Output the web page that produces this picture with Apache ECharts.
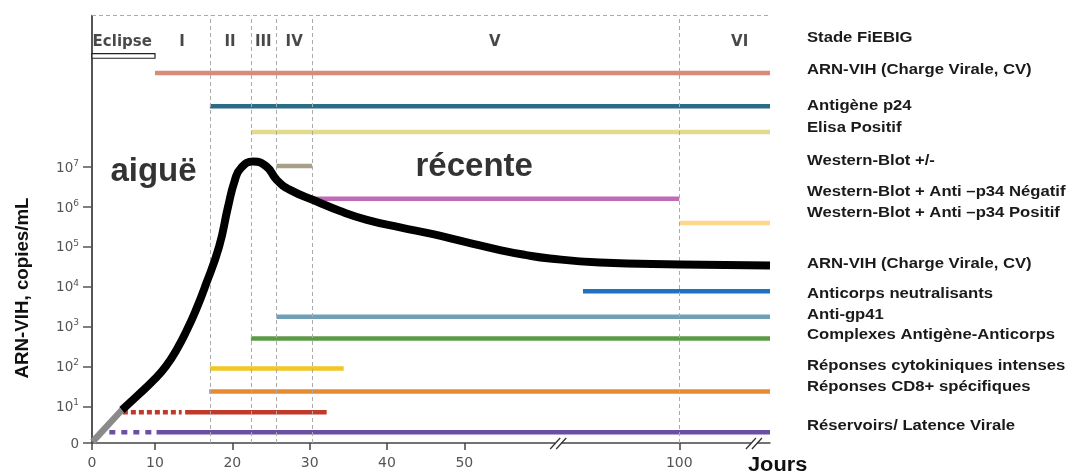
<!DOCTYPE html>
<html><head><meta charset="utf-8">
<script src="https://cdn.jsdelivr.net/npm/echarts@6/dist/echarts.min.js"></script>
<style>html,body{margin:0;padding:0;background:#fff}#c{width:1069px;height:474px}</style>
</head><body><div id="c"></div>
<script>
// ---------- data ----------
const xTickDays = [0, 10, 20, 30, 40, 50, 100];
const yTickExp = [0, 1, 2, 3, 4, 5, 6, 7];           // "0" then 10^k
const stageNames = ['Eclipse', 'I', 'II', 'III', 'IV', 'V', 'VI'];
const stageCenterDays = [4.8, 13.5, 19.7, 24.0, 28.0, 57.1, 113.3];
const stageBoundaryDays = [17.1, 22.4, 25.7, 30.3, 100];
const eclipseDays = [0, 10];
const axisBreakDays = [72.3, 116.9];

const curveGrayDays = [0.1, 4.75];
const curveGrayLog  = [0.11, 0.91];
const curveDays = [4.75, 7.3, 10, 11.42, 12.85, 14.14, 15.30, 16.47, 18.28, 19.44, 20.34, 21.12, 22.7, 24.45, 25.74, 27.46, 30.92, 33.93, 37.4, 41.7, 45.95, 50.4, 58.3, 64.1, 69.9, 81.5, 100.2, 120];
const curveLog  = [0.91, 1.28, 1.69, 2.01, 2.44, 2.92, 3.42, 4.0, 5.0, 6.0, 6.68, 6.98, 7.14, 7.01, 6.68, 6.43, 6.14, 5.90, 5.68, 5.49, 5.32, 5.12, 4.92, 4.80, 4.71, 4.61, 4.56, 4.53];

const markerNames = ['ARN-VIH', 'Antigène p24', 'Elisa Positif', 'Western-Blot +/-', 'WB Anti-p34 Négatif', 'WB Anti-p34 Positif',
  'Anticorps neutralisants', 'Anti-gp41', 'Complexes Ag-Ac', 'Réponses cytokiniques', 'Réponses CD8+', 'Latence (rouge)', 'Réservoirs'];
const markerStartDays = [10, 17.1, 22.4, 25.7, 30.3, 100, 77.6, 25.7, 22.4, 17.1, 17.0, 13.9, 10.2];
const markerEndDays   = [120, 120, 120, 30.3, 100, 120, 120, 120, 120, 34.4, 120, 32.2, 120];
const markerLevels    = [9.36, 8.53, 7.88, 7.03, 6.21, 5.60, 3.89, 3.25, 2.70, 1.95, 1.37, 0.85, 0.35];
const dashedStartDays = [4.9, 2.75];
const dashedEndDays   = [13.45, 9.47];
const dashedLevels    = [0.85, 0.35];

const rightLabels = ['Stade FiEBIG', 'ARN-VIH (Charge Virale, CV)', 'Antigène p24', 'Elisa Positif', 'Western-Blot +/-',
  'Western-Blot + Anti –p34 Négatif', 'Western-Blot + Anti –p34 Positif', 'ARN-VIH (Charge Virale, CV)',
  'Anticorps neutralisants', 'Anti-gp41', 'Complexes Antigène-Anticorps', 'Réponses cytokiniques intenses',
  'Réponses CD8+ spécifiques', 'Réservoirs/ Latence Virale'];
const phaseTexts = ['aiguë', 'récente'];
const phaseDays = [9.76, 52.3];
const phaseLevels = [6.87, 7.0];

// ---------- styles / layout ----------
const markerColors = ['#d98b78', '#2a6b85', '#e3da8e', '#a89f87', '#c06bb5', '#fdd88a', '#1e73be', '#6fa0b8', '#5c9a45', '#f0c723', '#e88b30', '#c0392b', '#6b4fa3'];
const dashedColors = ['#c0392b', '#6b4fa3'];
const dashedPatterns = [[5, 3], [6, 6]];
const rightLabelY = [38, 70, 106, 128, 161, 192, 213, 264, 294, 315, 335, 366, 387, 426];

// broken time axis: piecewise-linear mapping days -> axis units
const scaleDays  = [0, 10, 50, 100, 120];
const scaleUnits = [0, 63, 372.3, 587.3, 678];
function X(d) {
  for (let i = 0; i < scaleDays.length - 1; i++) {
    if (d <= scaleDays[i + 1] || i === scaleDays.length - 2) {
      const t = (d - scaleDays[i]) / (scaleDays[i + 1] - scaleDays[i]);
      return scaleUnits[i] + t * (scaleUnits[i + 1] - scaleUnits[i]);
    }
  }
}
const Y0 = 0.08, YMAX = 10.8;
const stageLevel = 10.14, eclipseLevel = 9.79;

const chart = echarts.init(document.getElementById('c'), null, {renderer: 'canvas'});
const series = [];

// dashed stage boundaries + top border
series.push({
  type: 'line', data: [], silent: true,
  markLine: {
    symbol: 'none', silent: true, label: {show: false},
    lineStyle: {color: '#aaaaaa', type: [4, 3], width: 1},
    data: stageBoundaryDays.map(d => ({xAxis: X(d)})).concat([{yAxis: YMAX}])
  }
});

// marker bars
markerNames.forEach((n, i) => {
  series.push({
    type: 'line', name: n, symbol: 'none', silent: true, z: 3,
    lineStyle: {color: markerColors[i], width: 4.5, cap: 'butt'},
    data: [[X(markerStartDays[i]), markerLevels[i]], [X(markerEndDays[i]), markerLevels[i]]]
  });
});
dashedStartDays.forEach((d, i) => {
  series.push({
    type: 'line', symbol: 'none', silent: true, z: 3,
    lineStyle: {color: dashedColors[i], width: 4.5, type: dashedPatterns[i], cap: 'butt'},
    data: [[X(d), dashedLevels[i]], [X(dashedEndDays[i]), dashedLevels[i]]]
  });
});

// viral load curve
series.push({
  type: 'line', symbol: 'none', silent: true, z: 5,
  lineStyle: {color: '#8a8a8a', width: 6.5, cap: 'butt'},
  data: curveGrayDays.map((d, i) => [X(d), curveGrayLog[i]])
});
series.push({
  type: 'line', symbol: 'none', silent: true, z: 6, smooth: 0.5,
  lineStyle: {color: '#000', width: 8, cap: 'butt', join: 'round'},
  data: curveDays.map((d, i) => [X(d), curveLog[i]])
});

// eclipse hollow bar
series.push({
  type: 'custom', silent: true, z: 4,
  data: [[X(eclipseDays[0]), X(eclipseDays[1]), eclipseLevel]],
  renderItem: (p, api) => {
    const a = api.coord([api.value(0), api.value(2)]);
    const b = api.coord([api.value(1), api.value(2)]);
    return {type: 'rect', shape: {x: a[0], y: a[1] - 2.3, width: b[0] - a[0], height: 4.6},
      style: {fill: '#fff', stroke: '#222', lineWidth: 1.2}};
  }
});

// axis break marks
series.push({
  type: 'custom', silent: true, z: 10, clip: false,
  data: axisBreakDays.map(d => [X(d), Y0]),
  renderItem: (p, api) => {
    const c = api.coord([api.value(0), api.value(1)]);
    const s = {stroke: '#333', lineWidth: 1.3};
    return {type: 'group', children: [
      {type: 'rect', shape: {x: c[0] - 5, y: c[1] - 3, width: 6, height: 6}, style: {fill: '#fff'}},
      {type: 'line', shape: {x1: c[0] - 10, y1: c[1] + 6, x2: c[0], y2: c[1] - 5}, style: s},
      {type: 'line', shape: {x1: c[0] - 4, y1: c[1] + 6, x2: c[0] + 6, y2: c[1] - 5}, style: s}
    ]};
  }
});

// stage labels
series.push({
  type: 'scatter', silent: true, symbolSize: 1, itemStyle: {color: 'rgba(0,0,0,0)'}, z: 8,
  data: stageNames.map((n, i) => [X(stageCenterDays[i]), stageLevel, n]),
  label: {show: true, position: 'inside', formatter: p => p.data[2],
    fontFamily: 'DejaVu Sans', fontWeight: 'bold', fontSize: 15, color: '#1a1a1a'}
});
// phase labels
series.push({
  type: 'scatter', silent: true, symbolSize: 1, itemStyle: {color: 'rgba(0,0,0,0)'}, z: 8,
  data: phaseTexts.map((n, i) => [X(phaseDays[i]), phaseLevels[i], n]),
  label: {show: true, position: 'inside', formatter: p => p.data[2],
    fontFamily: 'Liberation Sans', fontWeight: 'bold', fontSize: 33, color: '#000'}
});

const yTickVals = yTickExp.map(k => k === 0 ? Y0 : k);

const graphic = rightLabels.map((t, i) => ({
  type: 'text', x: 807, y: rightLabelY[i], scaleX: 1.19, silent: true,
  style: {text: t, x: 0, y: 0, fontFamily: 'Liberation Sans', fontWeight: 'bold', fontSize: 14, fill: '#1a1a1a',
    align: 'left', verticalAlign: 'middle'}
}));
graphic.push({
  type: 'text', x: 23, y: 288, rotation: Math.PI / 2, scaleX: 1.04, silent: true,
  style: {text: 'ARN-VIH, copies/mL', x: 0, y: 0, fontFamily: 'Liberation Sans', fontWeight: 'bold', fontSize: 18,
    fill: '#111', align: 'center', verticalAlign: 'middle'}
});
graphic.push({
  type: 'text', x: 748, y: 465, scaleX: 1.09, silent: true,
  style: {text: 'Jours', x: 0, y: 0, fontFamily: 'Liberation Sans', fontWeight: 'bold', fontSize: 20, fill: '#111',
    align: 'left', verticalAlign: 'middle'}
});

chart.setOption({
  animation: false,
  backgroundColor: '#fff',
  grid: {left: 92, right: 299, top: 15.7, bottom: 31, containLabel: false},
  xAxis: {
    type: 'value', min: 0, max: 678,
    axisLine: {show: true, lineStyle: {color: '#444', width: 1.5}},
    axisTick: {show: true, customValues: xTickDays.map(X), length: 7, lineStyle: {color: '#444', width: 1.5}},
    axisLabel: {customValues: xTickDays.map(X), margin: 13, fontFamily: 'DejaVu Sans', fontSize: 14, color: '#555',
      formatter: v => { const i = xTickDays.findIndex(d => Math.abs(X(d) - v) < 0.01); return i >= 0 ? String(xTickDays[i]) : ''; }},
    splitLine: {show: false}
  },
  yAxis: {
    type: 'value', min: Y0, max: YMAX,
    axisLine: {show: true, lineStyle: {color: '#555', width: 2}},
    axisTick: {show: true, customValues: yTickVals, length: 9, lineStyle: {color: '#555', width: 1.5}},
    axisLabel: {customValues: yTickVals, margin: 13,
      formatter: v => v < 0.5 ? '{n|0}' : '{n|10}{s|' + Math.round(v) + '}',
      rich: {
        n: {fontFamily: 'DejaVu Sans', fontSize: 13.5, color: '#555', lineHeight: 16, verticalAlign: 'bottom'},
        s: {fontFamily: 'DejaVu Sans', fontSize: 9, color: '#555', lineHeight: 10, verticalAlign: 'top'}
      }},
    splitLine: {show: false}
  },
  series: series,
  graphic: graphic
});
</script>
</body></html>
